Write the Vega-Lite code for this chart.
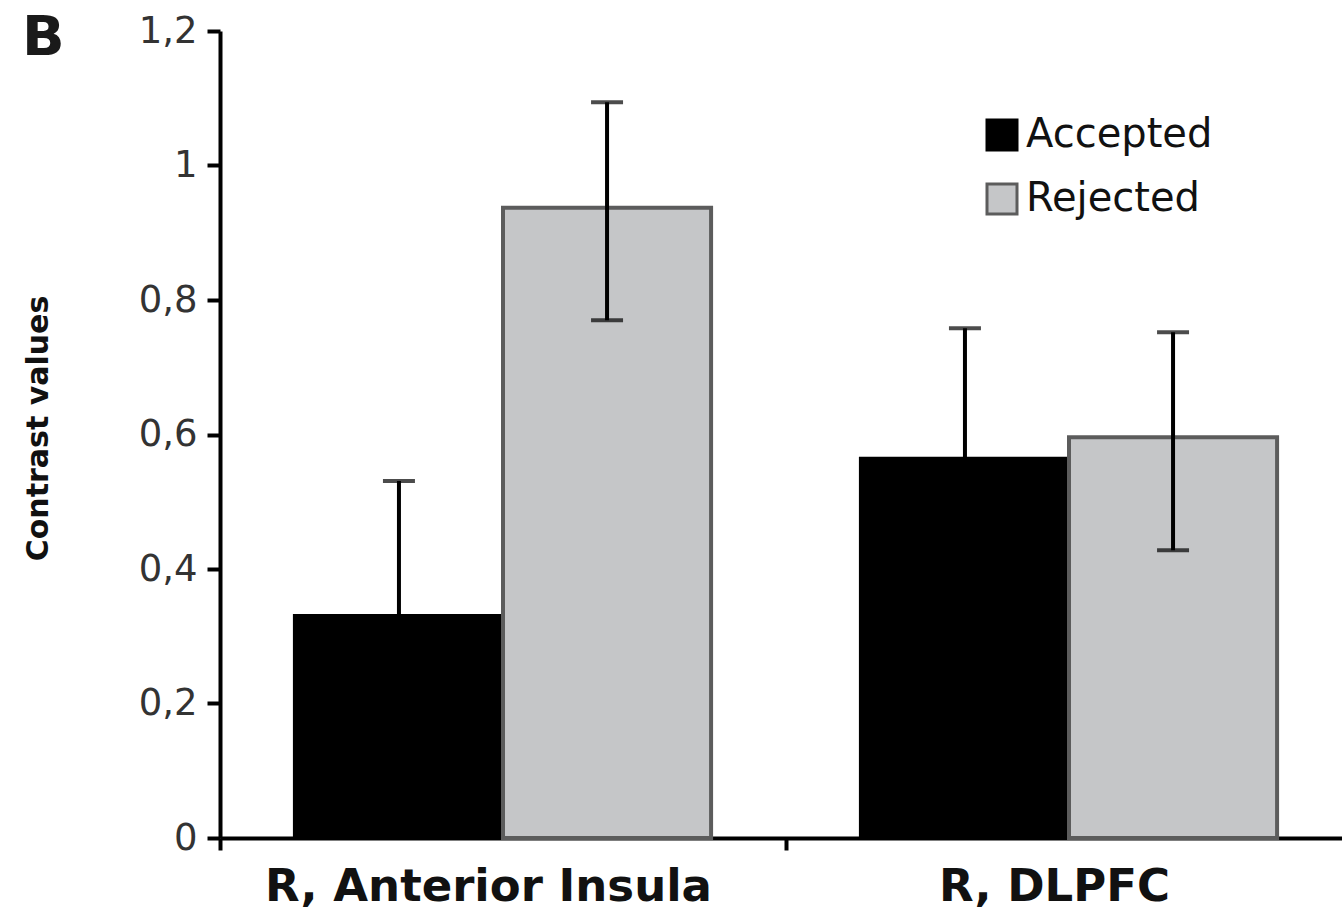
{
  "$schema": "https://vega.github.io/schema/vega-lite/v6.json",
  "width": 1132,
  "height": 807,
  "autosize": {"type": "none"},
  "padding": {"left": 220, "top": 31, "right": 0, "bottom": 77},
  "background": "white",
  "title": {"text": "B", "anchor": "start", "frame": "group", "orient": "top", "font": "DejaVu Sans", "fontWeight": "bold", "fontSize": 56, "color": "#1a1a1a", "baseline": "top", "offset": 0, "dx": -198, "dy": 55},
  "config": {
    "view": {"stroke": null},
    "axis": {"grid": false, "domainColor": "black", "tickColor": "black", "domainWidth": 4, "tickWidth": 4}
  },
  "data": {
    "values": [
      {"Region": "R, Anterior Insula", "Group": "Accepted", "value": 0.330, "low": 0.129, "high": 0.531},
      {"Region": "R, Anterior Insula", "Group": "Rejected", "value": 0.937, "low": 0.770, "high": 1.094},
      {"Region": "R, DLPFC", "Group": "Accepted", "value": 0.564, "low": 0.370, "high": 0.758},
      {"Region": "R, DLPFC", "Group": "Rejected", "value": 0.596, "low": 0.428, "high": 0.752}
    ]
  },
  "encoding": {
    "x": {
      "field": "Region", "type": "nominal", "sort": null,
      "scale": {"paddingInner": 0, "paddingOuter": 0},
      "axis": {"title": null, "labelAngle": 0, "tickBand": "extent", "tickSize": 12, "labelPadding": 14, "labelFont": "DejaVu Sans", "labelFontWeight": "bold", "labelFontSize": 45, "labelColor": "#111", "labelOffset": -15, "labelLimit": 0}
    },
    "xOffset": {"field": "Group", "type": "nominal", "sort": ["Accepted", "Rejected"], "scale": {"paddingInner": 0, "paddingOuter": 0.36}}
  },
  "layer": [
    {
      "mark": {"type": "bar", "strokeWidth": 4},
      "encoding": {
        "y": {
          "field": "value", "type": "quantitative",
          "scale": {"domain": [0, 1.2], "nice": false},
          "axis": {
            "title": "Contrast values", "values": [0, 0.2, 0.4, 0.6, 0.8, 1, 1.2],
            "labelExpr": "replace(format(datum.value, '~g'), '.', ',')",
            "tickSize": 13, "labelPadding": 10, "labelFont": "DejaVu Sans", "labelFontSize": 37, "labelColor": "#333",
            "titleFont": "DejaVu Sans", "titleFontWeight": "bold", "titleFontSize": 30, "titleColor": "#111",
            "titleX": -182, "titleY": 397, "titleAngle": -90, "titleBaseline": "middle", "titleAlign": "center"
          }
        },
        "fill": {
          "field": "Group", "type": "nominal",
          "scale": {"domain": ["Accepted", "Rejected"], "range": ["#000000", "#c5c6c8"]},
          "legend": {
            "title": null, "orient": "none", "legendX": 762, "legendY": 84, "padding": 0,
            "symbolType": "square", "symbolSize": 900, "symbolStrokeWidth": 3,
            "labelFont": "DejaVu Sans", "labelFontSize": 40, "labelColor": "#111", "labelOffset": 4, "rowPadding": 22, "labelLimit": 0
          }
        },
        "stroke": {
          "field": "Group", "type": "nominal",
          "scale": {"domain": ["Accepted", "Rejected"], "range": ["#000000", "#5c5c5c"]},
          "legend": {
            "title": null, "orient": "none", "legendX": 762, "legendY": 84, "padding": 0,
            "symbolType": "square", "symbolSize": 900, "symbolStrokeWidth": 3,
            "labelFont": "DejaVu Sans", "labelFontSize": 40, "labelColor": "#111", "labelOffset": 4, "rowPadding": 22, "labelLimit": 0
          }
        }
      }
    },
    {
      "mark": {"type": "rule", "color": "black", "strokeWidth": 4},
      "encoding": {
        "y": {"field": "low", "type": "quantitative"},
        "y2": {"field": "high"}
      }
    },
    {
      "mark": {"type": "tick", "color": "black", "thickness": 4, "size": 32},
      "encoding": {
        "y": {"field": "high", "type": "quantitative"}
      }
    },
    {
      "mark": {"type": "tick", "color": "black", "thickness": 4, "size": 32},
      "encoding": {
        "y": {"field": "low", "type": "quantitative"}
      }
    }
  ]
}
